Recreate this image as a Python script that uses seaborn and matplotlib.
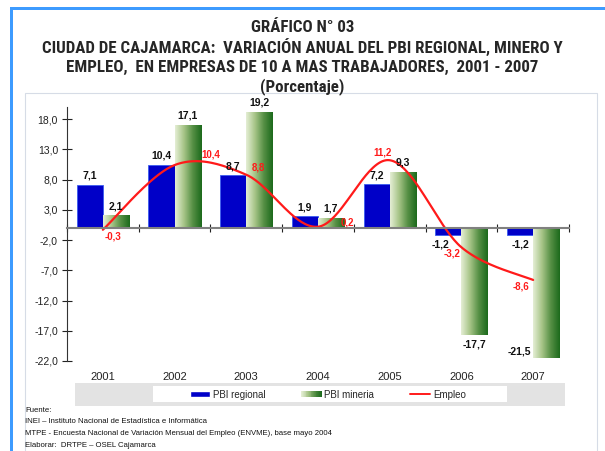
import numpy as np
import pandas as pd
import matplotlib
matplotlib.use("Agg")
import matplotlib.pyplot as plt
import seaborn as sns
from matplotlib import font_manager
from matplotlib.patches import Rectangle, Patch
from matplotlib.lines import Line2D
from matplotlib.colors import LinearSegmentedColormap
from matplotlib.legend_handler import HandlerBase
from matplotlib.ticker import FuncFormatter

# data
years = ['2001', '2002', '2003', '2004', '2005', '2006', '2007']
pbi_regional = [7.1, 10.4, 8.7, 1.9, 7.2, -1.2, -1.2]
pbi_mineria = [2.1, 17.1, 19.2, 1.7, 9.3, -17.7, -21.5]
empleo = [-0.3, 10.4, 8.8, 0.2, 11.2, -3.2, -8.6]

# label offsets (pixels) for the Empleo values
empleo_offsets = [(10, -7), (36, 11), (12, 7), (29, 4), (-7, 8), (-9, -6), (-12, -7)]

W, H = 605, 451
BLUE = '#0000c8'
RED = '#ff1a1a'
green_cmap = LinearSegmentedColormap.from_list(
    'verde', ['#e4eed4', '#a6c487', '#558f44', '#1c6a1c'])


def fx(x):
    return x / W


def fy(y):
    return 1 - y / H


def coma(v):
    return f'{v:.1f}'.replace('.', ',')


def smooth(xs, ys, n=40):
    # catmull-rom style smoothing, like the "smoothed line" option
    xs = np.asarray(xs, float)
    ys = np.asarray(ys, float)
    px = np.concatenate([[xs[0]], xs, [xs[-1]]])
    py = np.concatenate([[ys[0]], ys, [ys[-1]]])
    out_x, out_y = [], []
    for i in range(1, len(px) - 2):
        t = np.linspace(0, 1, n)
        for p, out in ((px, out_x), (py, out_y)):
            p0, p1, p2, p3 = p[i - 1], p[i], p[i + 1], p[i + 2]
            m1 = (p2 - p0) / 2
            m2 = (p3 - p1) / 2
            h00 = 2 * t**3 - 3 * t**2 + 1
            h10 = t**3 - 2 * t**2 + t
            h01 = -2 * t**3 + 3 * t**2
            h11 = t**3 - t**2
            out.extend(h00 * p1 + h10 * m1 + h01 * p2 + h11 * m2)
    return np.array(out_x), np.array(out_y)


class GradientHandler(HandlerBase):
    def create_artists(self, legend, orig_handle, xdescent, ydescent,
                       width, height, fontsize, trans):
        n = 24
        arts = []
        for i in range(n):
            arts.append(Rectangle((-xdescent + i * width / n, -ydescent),
                                  width / n + 0.2, height,
                                  facecolor=green_cmap(i / (n - 1)),
                                  edgecolor='none', transform=trans))
        return arts


sns.set_style("white")
plt.rcParams['font.family'] = ['Liberation Sans', 'DejaVu Sans']

# narrow bold font for the titles if one is installed
installed = {f.name for f in font_manager.fontManager.ttflist}
narrow = [n for n in ['Liberation Sans Narrow', 'Roboto Condensed', 'Open Sans Condensed']
          if n in installed]
if narrow:
    title_font, title_size = [narrow[0], 'DejaVu Sans'], 12.2
else:
    title_font, title_size = ['Liberation Sans', 'DejaVu Sans'], 10

fig = plt.figure(figsize=(W / 100, H / 100), dpi=100)
ax = fig.add_axes([fx(67), fy(361), fx(569) - fx(67), fy(107) - fy(361)])
ax.set_facecolor('none')

df = pd.DataFrame({
    'Año': years * 2,
    'Serie': ['PBI regional'] * len(years) + ['PBI mineria'] * len(years),
    'Valor': pbi_regional + pbi_mineria,
})

sns.barplot(data=df, x='Año', y='Valor', hue='Serie', palette=[BLUE, '#6fa35a'],
            saturation=1, width=0.73, errorbar=None, legend=False, ax=ax, zorder=2)

for bar in ax.containers[0]:
    bar.set_edgecolor('#3a5cf0')
    bar.set_linewidth(0.6)

# horizontal gradient on the mining bars
grad = np.linspace(0, 1, 64).reshape(1, -1)
for bar in ax.containers[1]:
    bar.set_linewidth(0)
    x0, y0 = bar.get_xy()
    w, h = bar.get_width(), bar.get_height()
    im = ax.imshow(grad, cmap=green_cmap, extent=[x0, x0 + w, y0, y0 + h],
                   aspect='auto', zorder=2.1, interpolation='bilinear')
    im.set_clip_path(bar)

ax.set_xlim(-0.5, len(years) - 0.5)
ax.set_ylim(-22, 20)

lab_reg = ax.bar_label(ax.containers[0], labels=[coma(v) for v in pbi_regional],
                       padding=3, fontsize=7.5, fontweight='bold', color='#111111', zorder=5)
lab_min = ax.bar_label(ax.containers[1], labels=[coma(v) for v in pbi_mineria],
                       padding=3, fontsize=7.5, fontweight='bold', color='#111111', zorder=5)
# small nudges as in the original
lab_reg[5].xyann = (-6, -3)
lab_min[-1].xyann = (-11, 5)
lab_min[-1].set_ha('right')
lab_min[-1].set_va('center')

# Empleo smoothed line
xpos = np.arange(len(years))
sx, sy = smooth(xpos, empleo)
ax.plot(sx, sy, color=RED, lw=1.6, zorder=4)
for x, v, off in zip(xpos, empleo, empleo_offsets):
    ax.annotate(coma(v), (x, v), xytext=off, textcoords='offset pixels',
                ha='center', va='center', fontsize=7, fontweight='bold',
                color=RED, zorder=6)

ax.set_xlabel('')
ax.set_ylabel('')

ax.set_yticks(np.arange(-22, 19, 5))
ax.yaxis.set_major_formatter(FuncFormatter(lambda v, p: coma(v)))
ax.tick_params(axis='y', direction='inout', length=7, width=0.8, colors='#222222',
               labelsize=7.5, pad=3, left=True)

ax.set_xticks(np.arange(-0.5, len(years), 1), labels=[''] * (len(years) + 1))
ax.tick_params(axis='x', direction='inout', length=6, width=0.8, colors='#222222',
               bottom=True)

for s in ['top', 'right']:
    ax.spines[s].set_visible(False)
ax.spines['left'].set_color('#333333')
ax.spines['left'].set_linewidth(0.8)
ax.spines['bottom'].set_position(('data', 0))
ax.spines['bottom'].set_color('#808080')
ax.spines['bottom'].set_linewidth(1.5)
ax.spines['bottom'].set_zorder(4.5)

sec = ax.secondary_xaxis('bottom')
sec.set_xticks(xpos, labels=years)
sec.tick_params(length=0, labelsize=8, pad=8, colors='#222222')
sec.spines['bottom'].set_visible(False)

# page frame
fig.add_artist(Rectangle((fx(25), fy(460)), fx(597) - fx(25), fy(93) - fy(460),
                         transform=fig.transFigure, fill=False,
                         edgecolor='#d6dce6', lw=0.8, zorder=0))
fig.add_artist(Rectangle((fx(10), 0), fx(3), fy(7), transform=fig.transFigure,
                         facecolor='#3d9bff', edgecolor='none'))
fig.add_artist(Rectangle((fx(10), fy(10)), 1, fx(3) * W / H, transform=fig.transFigure,
                         facecolor='#3d9bff', edgecolor='none'))

# titles
titles = ['GRÁFICO N° 03',
          'CIUDAD DE CAJAMARCA:  VARIACIÓN ANUAL DEL PBI REGIONAL, MINERO Y',
          'EMPLEO,  EN EMPRESAS DE 10 A MAS TRABAJADORES,  2001 - 2007',
          '(Porcentaje)']
for i, t in enumerate(titles):
    fig.text(0.5, fy(27 + 20 * i), t, ha='center', va='center',
             fontsize=title_size, fontweight='bold', family=title_font)

# legend: grey band, white box, entries
fig.add_artist(Rectangle((fx(75), fy(406)), fx(565) - fx(75), fy(383) - fy(406),
                         transform=fig.transFigure, facecolor='#e3e3e3',
                         edgecolor='none', zorder=1))
fig.add_artist(Rectangle((fx(153), fy(402)), fx(507) - fx(153), fy(386) - fy(402),
                         transform=fig.transFigure, facecolor='white',
                         edgecolor='none', zorder=1.5))
handles = [Patch(facecolor=BLUE), Patch(facecolor='#6fa35a'),
           Line2D([], [], color=RED, lw=1.4)]
leg = fig.legend(handles, ['PBI regional', 'PBI mineria', 'Empleo'],
                 loc='center', bbox_to_anchor=(fx(328), fy(394.5)), ncol=3,
                 fontsize=7, frameon=False, handlelength=2.05,
                 handleheight=0.5, handletextpad=0.3, columnspacing=3.7,
                 borderpad=0.2, handler_map={handles[1]: GradientHandler()})
leg.set_zorder(3)

# source notes
notes = ['Fuente:',
         'INEI – Instituto Nacional de Estadística e Informática',
         'MTPE - Encuesta Nacional de Variación Mensual del Empleo (ENVME), base mayo 2004',
         'Elaborar:  DRTPE – OSEL Cajamarca']
for i, t in enumerate(notes):
    fig.text(fx(25), fy(410 + 11.7 * i), t, ha='left', va='center',
             fontsize=5.6, color='#111111')

fig.savefig('out.png', dpi=100)
